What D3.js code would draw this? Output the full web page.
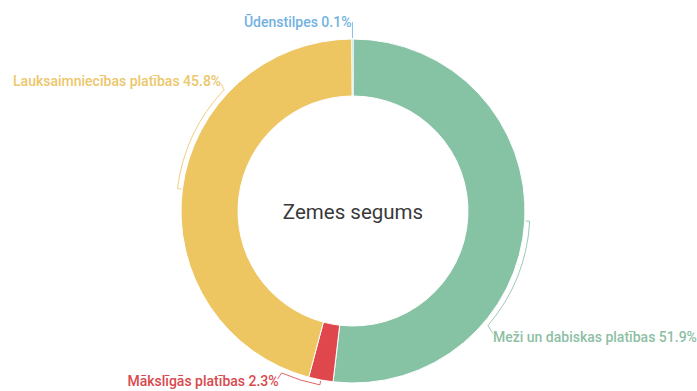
<!DOCTYPE html>
<html>
<head>
<meta charset="utf-8">
<script src="https://cdn.jsdelivr.net/npm/d3@7"></script>
<style>
  html, body { margin: 0; padding: 0; background: #ffffff; }
  svg { display: block; }
  text { font-family: Roboto, "Noto Sans", sans-serif; }
</style>
</head>
<body>
<svg id="chart" width="697" height="391"></svg>
<script>
// Land cover shares (%), clockwise from 12 o'clock
const categories = ["Meži un dabiskas platības", "Mākslīgās platības", "Lauksaimniecības platības", "Ūdenstilpes"];
const shares = [51.9, 2.3, 45.8, 0.1];
const sliceColors = ["#86c2a4", "#e0474c", "#edc561", "#6fb0e0"];
const labelColors = ["#8dbfa4", "#d9494e", "#ecc76b", "#72b2e2"];
const title = "Zemes segums";

// Bracket span (degrees past slice middle) and label placement side
const bracketSpan = [37, 13, 36, 0];
const labelSide = ["start", "end", "end", "end"];

const W = 697, H = 391;
const cx = 353, cy = 211;
const outerR = 172, innerR = 115, bracketR = 177;

const svg = d3.select("#chart");
const g = svg.append("g").attr("transform", `translate(${cx},${cy})`);

const data = categories.map((c, i) => ({ name: c, value: shares[i], i }));

const pie = d3.pie().sort(null).value(d => d.value).startAngle(0).endAngle(2 * Math.PI);
const arc = d3.arc().innerRadius(innerR).outerRadius(outerR);
const arcs = pie(data);

g.selectAll("path.slice")
  .data(arcs)
  .join("path")
  .attr("class", "slice")
  .attr("d", arc)
  .attr("fill", d => sliceColors[d.data.i])
  .attr("stroke", "#ffffff")
  .attr("stroke-width", 1);

// Polar helper: angle measured clockwise from 12 o'clock
const pt = (a, r) => [r * Math.sin(a), -r * Math.cos(a)];
const rad = Math.PI / 180;

arcs.forEach(d => {
  const i = d.data.i;
  const mid = (d.startAngle + d.endAngle) / 2;
  const a1 = mid + bracketSpan[i] * rad;
  const p = d3.path();
  const t0 = pt(mid, outerR + 1);
  const s0 = pt(mid, bracketR);
  p.moveTo(t0[0], t0[1]);
  p.lineTo(s0[0], s0[1]);
  if (bracketSpan[i] > 0) {
    p.arc(0, 0, bracketR, mid - Math.PI / 2, a1 - Math.PI / 2, false);
  }
  const e = pt(a1, bracketR);
  let lx, ly;
  if (i === 0) { lx = e[0] + 5; ly = e[1] + 8; }
  else if (i === 1) { lx = e[0] - 4; ly = e[1] + 6; }
  else if (i === 2) { lx = e[0] - 3; ly = e[1] - 6; }
  else { lx = e[0]; ly = e[1] - 12; }
  p.lineTo(lx, ly);

  g.append("path")
    .attr("d", p.toString())
    .attr("fill", "none")
    .attr("stroke", labelColors[i])
    .attr("stroke-opacity", 0.85)
    .attr("stroke-width", 1);

  let tx, ty;
  if (i === 0) { tx = lx; ty = ly + 8; }
  else if (i === 1) { tx = lx + 1; ty = ly + 7; }
  else if (i === 2) { tx = lx; ty = ly + 2; }
  else { tx = lx - 1; ty = ly + 5; }

  g.append("text")
    .attr("x", tx)
    .attr("y", ty)
    .attr("text-anchor", labelSide[i])
    .attr("fill", labelColors[i])
    .attr("font-size", "14px")
    .attr("font-weight", 500)
    .text(`${d.data.name} ${d3.format(".1f")(d.data.value)}%`);
});

g.append("text")
  .attr("x", 0)
  .attr("y", 8)
  .attr("text-anchor", "middle")
  .attr("fill", "#3a3a3a")
  .attr("font-size", "20.5px")
  .text(title);
</script>
</body>
</html>
